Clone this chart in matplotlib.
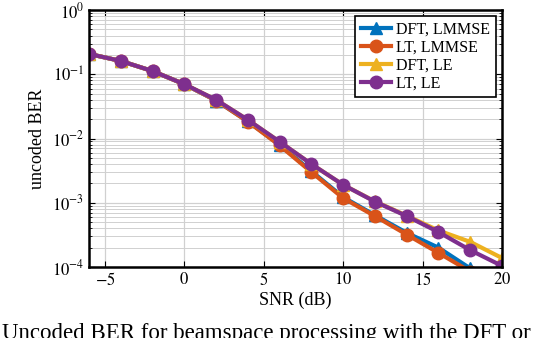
import numpy as np
import matplotlib
import matplotlib.pyplot as plt

matplotlib.use("Agg")

plt.rcParams["font.family"] = ["Liberation Serif", "DejaVu Serif"]
plt.rcParams["mathtext.fontset"] = "stix"

# === data ===
snr_db = [-6, -4, -2, 0, 2, 4, 6, 8, 10, 12, 14, 16, 18, 20]
ber_dft_lmmse = [0.207, 0.161, 0.112, 0.070, 0.039, 0.0185, 0.0080, 0.0031,
                 0.00122, 0.00064, 0.00034, 0.00020, 9.5e-5, 5.0e-5]
ber_lt_lmmse = [0.207, 0.161, 0.112, 0.070, 0.039, 0.0183, 0.0078, 0.0030,
                0.00118, 0.00062, 0.00032, 0.000166, 8.5e-5, 4.5e-5]
ber_dft_le = [0.207, 0.161, 0.112, 0.070, 0.040, 0.0195, 0.0089, 0.0040,
              0.0019, 0.00105, 0.00063, 0.00037, 0.000246, 0.000138]
ber_lt_le = [0.207, 0.161, 0.112, 0.070, 0.040, 0.0195, 0.0089, 0.0040,
             0.0019, 0.00104, 0.00062, 0.00035, 0.000183, 0.000104]

labels = ["DFT, LMMSE", "LT, LMMSE", "DFT, LE", "LT, LE"]
colors = ["#0072BD", "#D95319", "#EDB120", "#7E2F8E"]
markers = ["^", "o", "^", "o"]
series = [ber_dft_lmmse, ber_lt_lmmse, ber_dft_le, ber_lt_le]

fig = plt.figure(figsize=(5.44, 3.38), dpi=100)
ax = fig.add_axes([89 / 544, 1 - 267 / 338, (502 - 89) / 544, (267 - 10) / 338])

for ys, lab, col, mk in zip(series, labels, colors, markers):
    ax.plot(snr_db, ys, color=col, marker=mk, markersize=9, linewidth=3,
            label=lab)

ax.set_yscale("log")
ax.set_xlim(-6, 20)
ax.set_ylim(1e-4, 1)
ax.set_xticks([-5, 0, 5, 10, 15, 20])
ax.set_xticklabels(["$-5$", "$0$", "$5$", "$10$", "$15$", "$20$"])
ax.set_yticks([1e-4, 1e-3, 1e-2, 1e-1, 1])
ax.set_yticklabels(["$10^{-4}$", "$10^{-3}$", "$10^{-2}$", "$10^{-1}$", "$10^{0}$"])
ax.yaxis.set_minor_locator(matplotlib.ticker.LogLocator(base=10, subs=np.arange(2, 10)))
ax.yaxis.set_minor_formatter(matplotlib.ticker.NullFormatter())

ax.grid(True, which="major", color="#d0d0d0", linewidth=0.9)
ax.grid(True, which="minor", axis="y", color="#d0d0d0", linewidth=0.7)
ax.set_axisbelow(True)
ax.tick_params(which="both", direction="in", labelsize=12, top=True, right=True)
ax.tick_params(which="major", length=4)
ax.tick_params(which="minor", length=2)
for sp in ax.spines.values():
    sp.set_linewidth(1.8)

ax.set_xlabel("SNR (dB)", fontsize=13, labelpad=2)
ax.set_ylabel("uncoded BER", fontsize=13, labelpad=4)

leg = ax.legend(loc="upper right", fontsize=11.5, frameon=True, fancybox=False,
                edgecolor="black", framealpha=1, borderpad=0.35, labelspacing=0.12,
                handlelength=1.9, handletextpad=0.3, borderaxespad=0.4)
leg.get_frame().set_linewidth(1.2)

# caption of the paper, cut by the bottom edge as in the reference
fig.text(0.003, -0.004, "Uncoded BER for beamspace processing with the DFT or",
         fontsize=16.5, ha="left", va="baseline")

fig.savefig("out.png", dpi=100)
